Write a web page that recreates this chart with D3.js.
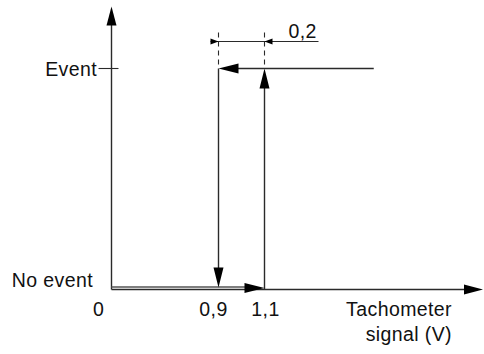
<!DOCTYPE html>
<html>
<head>
<meta charset="utf-8">
<script src="https://cdn.jsdelivr.net/npm/d3@7"></script>
<style>
  body { margin: 0; background: #fff; }
  svg text { font-family: "Liberation Sans", Arial, sans-serif; font-size: 19.5px; letter-spacing: 0.4px; fill: #111; }
</style>
</head>
<body>
<div id="chart-area"></div>
<script>
// Data (schematic hysteresis of the tachometer switch)
const xTickValues = [0, 0.9, 1.1]
const xTickLabels = ["0", "0,9", "1,1"]
const states = [0, 1]
const stateLabels = ["No event", "Event"]
const switchOn = 1.1   // rising signal switches to Event
const switchOff = 0.9  // falling signal returns to No event
const hysteresis = "0,2"
const eventLineEnd = 1.55
const xAxisEnd = 2.0
const yAxisEnd = 1.28

const WIDTH = 484
const HEIGHT = 354

const svg = d3.select("#chart-area").append("svg")
  .attr("width", WIDTH)
  .attr("height", HEIGHT)

// Scales (the drawing is not to scale, so x is piecewise)
const x = d3.scaleLinear()
  .domain([0, 0.9, 1.1, 2.0])
  .range([111.5, 218.5, 264.5, 483])
const y = d3.scaleLinear()
  .domain([0, 1])
  .range([289.5, 68.5])

const LINE = "#2a2a2a"
const HEAD = "#000"

function line(x1, y1, x2, y2, opts = {}) {
  return svg.append("line")
    .attr("x1", x1).attr("y1", y1)
    .attr("x2", x2).attr("y2", y2)
    .attr("stroke", opts.color || LINE)
    .attr("stroke-width", opts.width || 1.4)
    .attr("stroke-dasharray", opts.dash || null)
}

// arrow head with tip at (tx, ty), pointing in direction dir
function head(tx, ty, dir, len, half) {
  const d = { up: [0, -1], down: [0, 1], left: [-1, 0], right: [1, 0] }[dir]
  const bx = tx - d[0] * len, by = ty - d[1] * len
  const px = -d[1] * half, py = d[0] * half
  svg.append("path")
    .attr("d", `M${tx},${ty}L${bx + px},${by + py}L${bx - px},${by - py}Z`)
    .attr("fill", HEAD)
}

// Axes
line(x(0), y(0), x(0), y(yAxisEnd) + 10)
head(x(0), y(yAxisEnd), "up", 19, 5)
line(x(0), y(0), x(xAxisEnd) - 10, y(0))
head(x(xAxisEnd), y(0), "right", 19, 5)

// Event tick on the y axis
line(x(0) - 13, y(1), x(0) + 7, y(1), { width: 1.1 })

// No event level (drawn just above the axis)
line(x(0), y(0) - 2.5, x(switchOn) - 10, y(0) - 2.5, { width: 1.6, color: "#555" })
head(x(switchOn), y(0) - 1.5, "right", 20, 5)

// Rising switch at 1,1
line(x(switchOn), y(0), x(switchOn), y(1) + 10)
head(x(switchOn), y(1), "up", 20, 5)

// Event level coming back from the right
line(x(eventLineEnd), y(1), x(switchOff) + 10, y(1))
head(x(switchOff), y(1), "left", 20, 5)

// Falling switch at 0,9
line(x(switchOff), y(1), x(switchOff), y(0) - 10)
head(x(switchOff), y(0) - 2, "down", 20, 5)

// Dimension for the hysteresis
const dimY = 41.5
line(x(switchOff), y(1) - 36, x(switchOff), y(1), { dash: "5,4", width: 1.1 })
line(x(switchOn), y(1) - 36, x(switchOn), y(1), { dash: "5,4", width: 1.1 })
line(x(switchOff) - 8, dimY, x(switchOn) + 54, dimY, { width: 1.2 })
head(x(switchOff), dimY, "right", 8, 3)
head(x(switchOn), dimY, "left", 8, 3)
svg.append("text")
  .attr("x", x(switchOn) + 24)
  .attr("y", dimY - 4)
  .text(hysteresis)

// Tick labels
svg.selectAll(".xlabel")
  .data(xTickValues)
  .enter().append("text")
  .attr("class", "xlabel")
  .attr("x", (d, i) => x(d) + (i === 0 ? -13 : i === 1 ? -5 : 1))
  .attr("y", 316)
  .attr("text-anchor", "middle")
  .text((d, i) => xTickLabels[i])

svg.selectAll(".ylabel")
  .data(states)
  .enter().append("text")
  .attr("class", "ylabel")
  .attr("x", 97)
  .attr("y", d => y(d) + (d === 0 ? -3 : 7))
  .attr("dx", d => d === 0 ? -4 : 0)
  .attr("text-anchor", "end")
  .text((d, i) => stateLabels[i])

// Axis title
const title = svg.append("text")
  .attr("text-anchor", "end")
  .attr("x", 452)
  .attr("y", 316)
title.append("tspan").attr("x", 452).text("Tachometer")
title.append("tspan").attr("x", 452).attr("dy", 25).text("signal (V)")
</script>
</body>
</html>
